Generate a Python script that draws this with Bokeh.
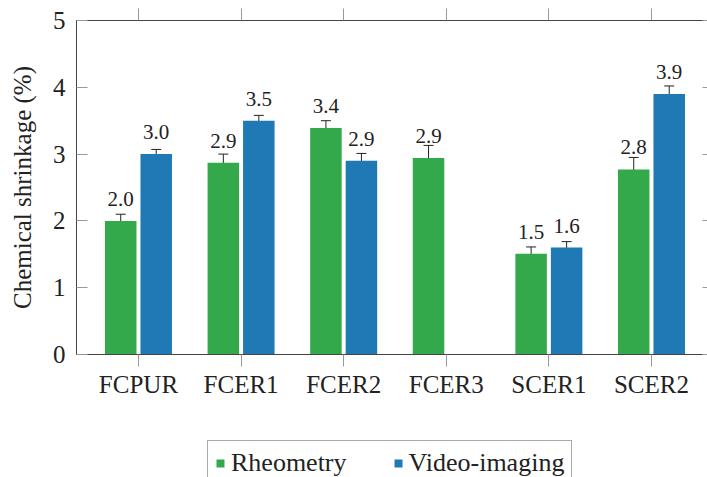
import numpy as np
from bokeh.plotting import figure
from bokeh.layouts import column
from bokeh.models import (Range1d, LinearAxis, ColumnDataSource, Whisker, TeeHead,
                          Legend, LegendItem, FixedTicker)
from bokeh.core.properties import value
from bokeh.embed import file_html
from bokeh.resources import INLINE

categories = ["FCPUR", "FCER1", "FCER2", "FCER3", "SCER1", "SCER2"]
rheometry = [2.00, 2.87, 3.39, 2.94, 1.51, 2.77]
rheometry_err = [0.10, 0.13, 0.11, 0.19, 0.10, 0.18]
video = [3.00, 3.50, 2.90, None, 1.60, 3.90]
video_err = [0.07, 0.08, 0.11, None, 0.09, 0.12]
series_names = ["Rheometry", "Video-imaging"]
y_ticks = [0, 1, 2, 3, 4, 5]

FONT = "Liberation Serif"
GREEN = "#34a94b"
BLUE = "#1f79b5"
AXIS = "#444444"
TICK = "#999999"
TEXT = "#222222"
OFFSET = 0.173
BAR_W = 0.307

p = figure(width=707, height=428, output_backend="svg", toolbar_location=None,
           x_range=Range1d(-0.604, 5.546), y_range=Range1d(0, 5),
           min_border_left=76, min_border_right=0, min_border_top=20,
           min_border_bottom=74, outline_line_color=None,
           x_axis_location=None, y_axis_location=None)
p.xgrid.visible = False
p.ygrid.visible = False


def make_source(vals, errs, off):
    idx = [i for i, v in enumerate(vals) if v is not None]
    return ColumnDataSource(dict(
        x=[i + off for i in idx],
        top=[vals[i] for i in idx],
        upper=[vals[i] + errs[i] for i in idx],
        lower=[vals[i] - errs[i] for i in idx],
        label=[f"{vals[i]:.1f}" for i in idx],
    ))


src_r = make_source(rheometry, rheometry_err, -OFFSET)
src_v = make_source(video, video_err, OFFSET)

p.vbar(x="x", top="top", bottom=0, width=BAR_W, source=src_r,
       fill_color=GREEN, line_color=None)
p.vbar(x="x", top="top", bottom=0, width=BAR_W, source=src_v,
       fill_color=BLUE, line_color=None)

for k, src in enumerate((src_r, src_v)):
    w = Whisker(source=src, base="x", upper="upper", lower="lower",
                dimension="height", line_color=TEXT, line_width=1,
                upper_head=TeeHead(size=10, line_color=TEXT, line_width=1),
                lower_head=TeeHead(size=10, line_color=TEXT, line_width=1))
    p.add_layout(w)
    tr = p.text(x="x", y="top", text="label", source=src, text_align="center",
                text_baseline="alphabetic", y_offset=-22, text_font=value(FONT),
                text_font_size="21px", text_color=TEXT)
    tr.glyph.name = f"barlabel{k}"

cat_ticks = list(range(len(categories)))

left = LinearAxis(ticker=FixedTicker(ticks=y_ticks),
                  axis_label="Chemical shrinkage (%)",
                  major_tick_in=11, major_tick_out=0, minor_tick_line_color=None,
                  axis_line_color=AXIS, major_tick_line_color=TICK,
                  major_label_text_font=FONT, major_label_text_font_size="25px",
                  major_label_text_color=TEXT, major_label_standoff=11,
                  axis_label_text_font=FONT, axis_label_text_font_size="25px",
                  axis_label_text_font_style="normal", axis_label_text_color=TEXT,
                  axis_label_standoff=14, name="yaxis")
p.add_layout(left, "left")

right = LinearAxis(ticker=FixedTicker(ticks=y_ticks),
                   major_label_overrides={t: "" for t in y_ticks},
                   major_tick_in=5, major_tick_out=0, minor_tick_line_color=None,
                   axis_line_color=None, major_tick_line_color=TICK,
                   major_label_standoff=0)
p.add_layout(right, "right")

bottom = LinearAxis(ticker=FixedTicker(ticks=cat_ticks),
                    major_label_overrides={i: c for i, c in enumerate(categories)},
                    major_tick_in=0, major_tick_out=12, minor_tick_line_color=None,
                    axis_line_color=AXIS, major_tick_line_color=TICK,
                    major_label_text_font=FONT, major_label_text_font_size="25px",
                    major_label_text_color=TEXT, major_label_standoff=4,
                    name="xaxis")
p.add_layout(bottom, "below")

top = LinearAxis(ticker=FixedTicker(ticks=cat_ticks),
                 major_label_overrides={i: "" for i in cat_ticks},
                 major_tick_in=0, major_tick_out=12, minor_tick_line_color=None,
                 axis_line_color=AXIS, major_tick_line_color=TICK,
                 major_label_standoff=0)
p.add_layout(top, "above")

# legend strip (second figure sharing the data; its small marks lie far out of view)
p2 = figure(width=707, height=49, output_backend="svg", toolbar_location=None,
            x_range=Range1d(-0.604, 5.546), y_range=Range1d(100, 101),
            min_border_left=76, min_border_top=0, min_border_right=0,
            min_border_bottom=0, outline_line_color=None,
            x_axis_location=None, y_axis_location=None)
p2.xgrid.visible = False
p2.ygrid.visible = False
lr = p2.rect(x="x", y="top", width=10, height=10, width_units="screen",
             height_units="screen", source=src_r, fill_color=GREEN, line_color=None)
lv = p2.rect(x="x", y="top", width=10, height=10, width_units="screen",
             height_units="screen", source=src_v, fill_color=BLUE, line_color=None)
legend = Legend(items=[LegendItem(label=series_names[0], renderers=[lr]),
                       LegendItem(label=series_names[1], renderers=[lv])],
                orientation="horizontal", location=(131, -9),
                glyph_width=10, glyph_height=10, label_standoff=6, spacing=46,
                padding=7, margin=0, label_text_font=FONT,
                label_text_font_size="26px", label_text_color=TEXT,
                border_line_color="#555555", border_line_width=1,
                background_fill_color="white", background_fill_alpha=1,
                name="legend")
p2.add_layout(legend)

layout = column(p, p2, spacing=0)
html = file_html(layout, INLINE)

# warm up the serif font at the sizes used, and repaint texts once fonts are ready
warm = ('<div aria-hidden="true" style="position:absolute;left:0;top:0;opacity:0;'
        'pointer-events:none;font-family:\'Liberation Serif\';line-height:1">'
        '<span style="font-size:21px">.</span><span style="font-size:25px">.</span>'
        '<span style="font-size:26px">.</span></div>')
refresh = """
<script>
(function () {
  var F = "Liberation Serif,serif";
  function bump() {
    try {
      var docs = (window.Bokeh && window.Bokeh.documents) || [];
      docs.forEach(function (doc) {
        ["barlabel0", "barlabel1"].forEach(function (n) {
          var g = doc.get_model_by_name(n);
          if (g) { g.text_font = {value: F}; }
        });
        ["yaxis", "xaxis"].forEach(function (n) {
          var a = doc.get_model_by_name(n);
          if (a) { a.axis_label_text_font = F; a.major_label_text_font = F; }
        });
      });
    } catch (e) {}
  }
  window.addEventListener("load", function () {
    document.fonts.ready.then(function () { setTimeout(bump, 100); });
  });
})();
</script>
"""
html = html.replace("<body>", "<body>" + warm, 1)
html = html.replace("</body>", refresh + "</body>")
open("out.html", "w").write(html)
